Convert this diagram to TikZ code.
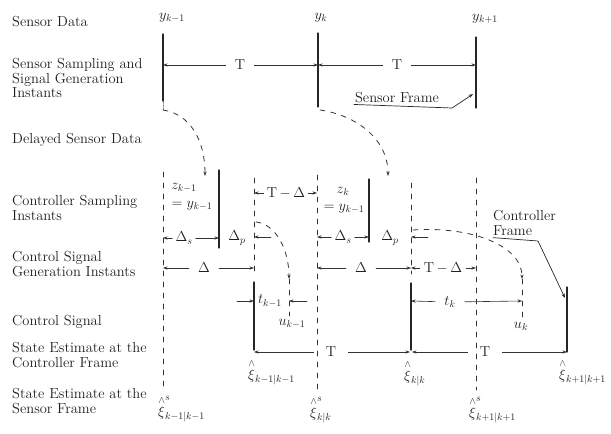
\documentclass[tikz,border=0pt]{standalone}
\usepackage{amsmath}
\usetikzlibrary{arrows.meta}

\newcommand{\xihat}{{\overset{\wedge}{\xi}}}

\begin{document}
\begin{tikzpicture}[
  x=1pt,
  y=-1pt,
  line cap=round,
  line join=round,
  >={Stealth[length=4.5pt,width=3.2pt]},
  font=\fontsize{14.5}{14.5}\selectfont,
  rowlabel/.style={anchor=west, align=left, inner sep=0pt, text=black!88},
  lbl/.style={inner sep=1pt, text=black!88},
  gaplbl/.style={inner ysep=1pt, inner xsep=9pt, text=black!88},
  instant/.style={draw=black!85, line width=1.3pt},
  pending/.style={draw=black!80, line width=0.8pt, dash pattern=on 5pt off 6pt},
  dim/.style={draw=black!80, line width=0.6pt, ->},
  delay/.style={draw=black!80, line width=0.8pt, dash pattern=on 5pt off 6pt, ->},
  pointer/.style={draw=black!85, line width=0.7pt, ->}
]
\useasboundingbox (0,0) rectangle (611,434);

% row titles down the left side
\node[rowlabel] (rData)   at (12,22)  {Sensor Data};
\node[rowlabel] (rSample) at (12,78)  {Sensor Sampling and\\Signal Generation\\Instants};
\node[rowlabel] (rDelay)  at (12,140) {Delayed Sensor Data};
\node[rowlabel] (rCtrl)   at (12,208) {Controller Sampling\\Instants};
\node[rowlabel] (rGen)    at (12,264) {Control Signal\\Generation Instants};
\node[rowlabel] (rSignal) at (12,322) {Control Signal};
\node[rowlabel] (rEstC)   at (12,355) {State Estimate at the\\Controller Frame};
\node[rowlabel] (rEstS)   at (12,401) {State Estimate at the\\Sensor Frame};

% sensor frame: samples y_{k-1}, y_k, y_{k+1}
\node[lbl, anchor=base] (yPrev) at (172,19) {$y_{k-1}$};
\node[lbl, anchor=base] (yCur)  at (321,19) {$y_k$};
\node[lbl, anchor=base] (yNext) at (485,20) {$y_{k+1}$};

\coordinate (s1top) at (163,34);
\coordinate (s1bot) at (163,101);
\coordinate (s1end) at (163,110);
\coordinate (s2top) at (318,33);
\coordinate (s2bot) at (318,107);
\coordinate (s3top) at (476,37);
\coordinate (s3bot) at (476,108);

\draw[instant] (s1top) -- (s1bot);
\draw[black!70, densely dotted] (s1bot) -- (s1end);
\draw[instant] (s2top) -- (s2bot);
\draw[instant] (s3top) -- (s3bot);

\coordinate (s1T) at (163,65);
\coordinate (s2T) at (318,65);
\coordinate (s3T) at (476,65);
\node[gaplbl] (Tsa) at (240,65) {T};
\node[gaplbl] (Tsb) at (397,65) {T};
\draw[dim] (Tsa) -- (s1T);
\draw[dim] (Tsa) -- (s2T);
\draw[dim] (Tsb) -- (s2T);
\draw[dim] (Tsb) -- (s3T);

\node[lbl] (sFrame) at (397,98) {Sensor Frame};
\coordinate (sfKnee) at (452,108);
\coordinate (sfTip)  at (473,94);
\draw[pointer] (sFrame.south west) -- (sfKnee) -- (sfTip);

% network delay down to the controller
\coordinate (d1end)   at (205,176);
\coordinate (d2start) at (320,110);
\coordinate (d2end)   at (388,176);
\draw[delay] (s1end) .. controls (190,114) and (205,140) .. (d1end);
\draw[delay] (d2start) .. controls (355,115) and (388,138) .. (d2end);

% sensor instants carried down through the controller rows
\coordinate (c1top) at (163,172);
\coordinate (c1bot) at (163,390);
\coordinate (c2top) at (317,175);
\coordinate (c2bot) at (317,390);
\coordinate (c3top) at (476,178);
\coordinate (c3bot) at (476,390);
\draw[pending] (c1top) -- (c1bot);
\draw[pending] (c2top) -- (c2bot);
\draw[pending] (c3top) -- (c3bot);

% controller frame k-1
\coordinate (cs1top) at (219,170);
\coordinate (cs1bot) at (219,248);
\draw[instant] (cs1top) -- (cs1bot);
\coordinate (g1top) at (254,178);
\coordinate (g1mid) at (254,276);
\coordinate (g1on)  at (254,282);
\coordinate (g1bot) at (254,350);
\draw[pending] (g1top) -- (g1mid);
\draw[instant] (g1on) -- (g1bot);
\coordinate (a1top) at (289,279);
\coordinate (a1bot) at (289,316);
\draw[pending] (a1top) -- (a1bot);

\node[lbl, inner sep=0pt] (zPrev)   at (184,188) {$z_{k-1}$};
\node[lbl, inner sep=0pt] (zPrevEq) at (192,206) {$=y_{k-1}$};

\node[gaplbl, inner xsep=3pt] (dsA) at (184,238) {$\Delta_s$};
\coordinate (dsAl) at (163,238);
\coordinate (dsAr) at (219,238);
\draw[dim] (dsA) -- (dsAl);
\draw[dim] (dsA) -- (dsAr);

\node[lbl] (dpA) at (237,238) {$\Delta_p$};
\coordinate (dpAfree) at (271,237);
\coordinate (dpAend)  at (254,237);
\draw[dim] (dpAfree) -- (dpAend);

\node[gaplbl, inner xsep=3pt] (tdA) at (286,193) {T\,$-$\,$\Delta$};
\coordinate (tdAl) at (254,193);
\coordinate (tdAr) at (317,193);
\draw[dim] (tdA) -- (tdAl);
\draw[dim] (tdA) -- (tdAr);

\node[gaplbl] (dA) at (204,268) {$\Delta$};
\coordinate (dAl) at (163,268);
\coordinate (dAr) at (254,268);
\draw[dim] (dA) -- (dAl);
\draw[dim] (dA) -- (dAr);

\coordinate (cd1) at (256,222);
\draw[delay] (cd1) .. controls (276,224) and (289,250) .. (a1top);

\node[lbl] (tPrev) at (270,301) {$t_{k-1}$};
\coordinate (tPl) at (237,301);
\coordinate (tPle) at (254,301);
\coordinate (tPr) at (307,301);
\coordinate (tPre) at (289,301);
\draw[dim] (tPl) -- (tPle);
\draw[dim] (tPr) -- (tPre);
\node[lbl] (uPrev) at (292,324) {$u_{k-1}$};

% controller frame k
\coordinate (cs2top) at (369,179);
\coordinate (cs2bot) at (369,242);
\draw[instant] (cs2top) -- (cs2bot);
\coordinate (g2top) at (411,183);
\coordinate (g2mid) at (411,274);
\coordinate (g2on)  at (411,283);
\coordinate (g2bot) at (411,350);
\draw[pending] (g2top) -- (g2mid);
\draw[instant] (g2on) -- (g2bot);
\coordinate (a2top) at (522,279);
\coordinate (a2bot) at (522,318);
\draw[pending] (a2top) -- (a2bot);
\coordinate (fTop) at (567,287);
\coordinate (fBot) at (567,352);
\draw[instant] (fTop) -- (fBot);

\node[lbl, inner sep=0pt] (zCur)   at (343,191) {$z_k$};
\node[lbl, inner sep=0pt] (zCurEq) at (344,209) {$=y_{k-1}$};

\node[gaplbl, inner xsep=3pt] (dsB) at (343,237) {$\Delta_s$};
\coordinate (dsBl) at (317,237);
\coordinate (dsBr) at (369,237);
\draw[dim] (dsB) -- (dsBl);
\draw[dim] (dsB) -- (dsBr);

\node[lbl] (dpB) at (390,238) {$\Delta_p$};
\coordinate (dpBfree) at (428,237);
\coordinate (dpBend)  at (411,237);
\draw[dim] (dpBfree) -- (dpBend);

\node[gaplbl] (dB) at (361,268) {$\Delta$};
\coordinate (dBl) at (317,268);
\coordinate (dBr) at (411,268);
\draw[dim] (dB) -- (dBl);
\draw[dim] (dB) -- (dBr);

\node[gaplbl, inner xsep=4pt] (tdB) at (443,268) {T\,$-$\,$\Delta$};
\coordinate (tdBl) at (411,268);
\coordinate (tdBr) at (476,268);
\draw[dim] (tdB) -- (tdBl);
\draw[dim] (tdB) -- (tdBr);

\coordinate (cd2) at (413,230);
\draw[delay] (cd2) .. controls (470,226) and (522,245) .. (a2top);

\node[gaplbl] (tCur) at (450,302) {$t_k$};
\coordinate (tCl) at (411,301);
\coordinate (tCr) at (522,301);
\draw[dim] (tCur) -- (tCl);
\draw[dim] (tCur) -- (tCr);
\node[lbl] (uCur) at (521,326) {$u_k$};

\node[rowlabel] (cFrame) at (493,223) {Controller\\Frame};
\coordinate (cfKnee) at (538,241);
\coordinate (cfTip)  at (565,298);
\draw[pointer] ([yshift=-2pt]cFrame.south west) -- (cfKnee) -- (cfTip);

% controller frame period
\node[gaplbl, inner xsep=12pt] (TcA) at (331,352) {T};
\node[gaplbl, inner xsep=12pt] (TcB) at (485,352) {T};
\coordinate (TcAl) at (254,352);
\coordinate (TcAr) at (410,352);
\coordinate (TcBl) at (412,352);
\coordinate (TcBr) at (567,352);
\draw[dim] (TcA) -- (TcAl);
\draw[dim] (TcA) -- (TcAr);
\draw[dim] (TcB) -- (TcBl);
\draw[dim] (TcB) -- (TcBr);

% state estimates
\node[lbl, anchor=west] (eC1) at (247,372) {$\xihat_{k-1|k-1}$};
\node[lbl, anchor=west] (eC2) at (403,373) {$\xihat_{k|k}$};
\node[lbl, anchor=west] (eC3) at (558,372) {$\xihat_{k+1|k+1}$};
\node[lbl, anchor=west] (eS1) at (157,409) {$\xihat^{s}_{k-1|k-1}$};
\node[lbl, anchor=west] (eS2) at (309,410) {$\xihat^{s}_{k|k}$};
\node[lbl, anchor=west] (eS3) at (468,410) {$\xihat^{s}_{k+1|k+1}$};

\end{tikzpicture}
\end{document}
